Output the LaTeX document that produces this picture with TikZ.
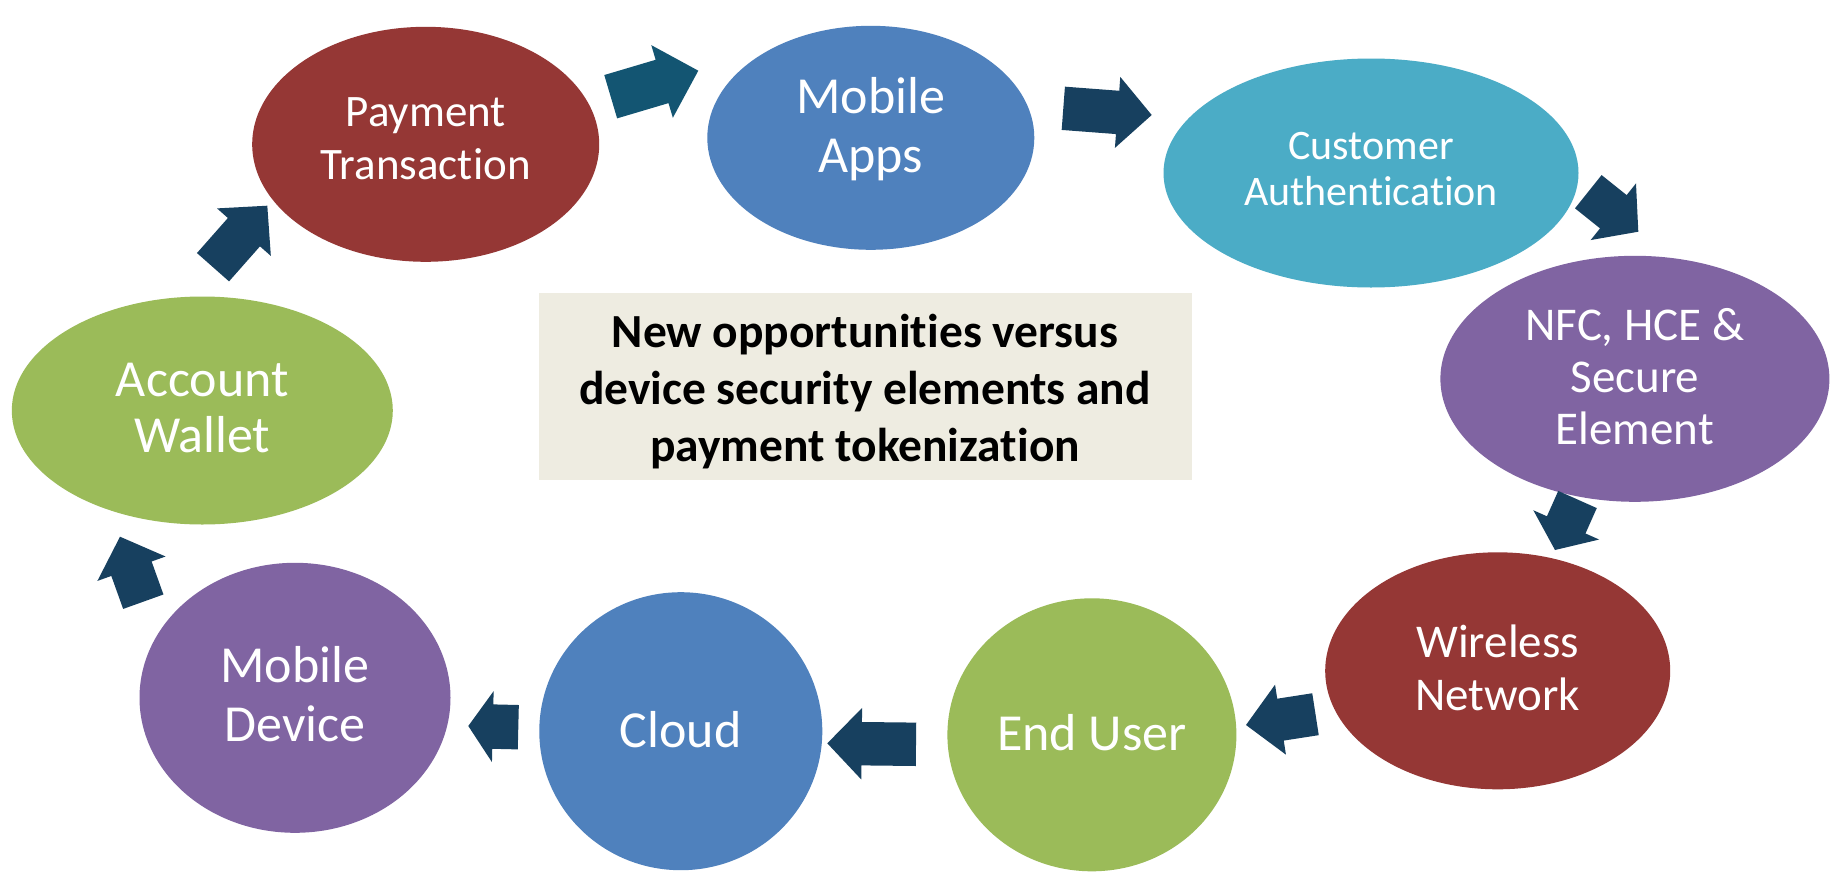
\documentclass[tikz,border=0pt]{standalone}
\usepackage{fontspec}
\setmainfont{Carlito}[Ligatures=NoCommon]
\usetikzlibrary{shapes.geometric,calc}
\definecolor{cred}{HTML}{953735}
\definecolor{cblue}{HTML}{4F81BD}
\definecolor{cteal}{HTML}{4BACC6}
\definecolor{cpurple}{HTML}{8064A2}
\definecolor{cgreen}{HTML}{9BBB59}
\definecolor{cbox}{HTML}{EEECE1}
\definecolor{carrow}{HTML}{17405F}
\definecolor{carrowa}{HTML}{135572}
\newcommand\fs[2]{\fontsize{#1}{#2}\selectfont}
% #1 tail, #2 tip, #3 shaft half width, #4 head half width, #5 head length, #6 colour
\newcommand\blockarrow[6]{%
  \coordinate (#1-hd) at ($(#2)!#5pt!(#1)$);
  \fill[#6] ($(#1)!#3pt!90:(#2)$) -- ($(#1-hd)!#3pt!-90:(#1)$) -- ($(#1-hd)!#4pt!-90:(#1)$)
    -- (#2) -- ($(#1-hd)!#4pt!90:(#1)$) -- ($(#1-hd)!#3pt!90:(#1)$) -- ($(#1)!#3pt!-90:(#2)$) -- cycle;
}
\tikzset{
  bubble/.style={ellipse, inner sep=0pt},
  label/.style={text=white, align=center, inner sep=0pt},
}
\begin{document}
\begin{tikzpicture}[x=1pt,y=-1pt]
\useasboundingbox (0,0) rectangle (1839,873);
\fill[white] (0,0) rectangle (1839,873);
% ellipses
\node[bubble, fill=cred, minimum width=347pt, minimum height=235pt] (pay) at (425.7,144.3) {};
\node[bubble, fill=cblue, minimum width=327pt, minimum height=224pt] (apps) at (870.8,137.8) {};
\node[bubble, fill=cteal, minimum width=415pt, minimum height=229pt] (auth) at (1371,173) {};
\node[bubble, fill=cpurple, minimum width=389pt, minimum height=246pt] (nfc) at (1634.9,378.8) {};
\node[bubble, fill=cred, minimum width=345pt, minimum height=237pt] (wire) at (1497.7,670.8) {};
\node[bubble, fill=cgreen, minimum width=289pt, minimum height=273pt] (user) at (1091.9,734.8) {};
\node[bubble, fill=cblue, minimum width=283pt, minimum height=278pt] (cloud) at (680.8,731.2) {};
\node[bubble, fill=cpurple, minimum width=311pt, minimum height=270pt] (dev) at (295,697.8) {};
\node[bubble, fill=cgreen, minimum width=381pt, minimum height=228pt] (wallet) at (202.3,410.5) {};
% labels
\node[label, font=\fs{45}{53}] (payl) at ($(pay)+(0,-6)$) {Payment\\Transaction};
\node[label, font=\fs{52}{59}] (appsl) at ($(apps)+(0,-9)$) {Mobile\\Apps};
\node[label, font=\fs{42}{46}] (authl) at ($(auth)+(0,-4)$) {Customer\\Authentication};
\node[label, font=\fs{47}{52}] (nfcl) at ($(nfc)+(0,-2)$) {NFC, HCE \&\\Secure\\Element};
\node[label, font=\fs{47}{53}] (wirel) at ($(wire)+(0,-3)$) {Wireless\\Network};
\node[label, font=\fs{52}{59}] (userl) at ($(user)+(0,-2)$) {End User};
\node[label, font=\fs{52}{59}] (cloudl) at ($(cloud)+(0,-2)$) {Cloud};
\node[label, font=\fs{52}{59}] (devl) at ($(dev)+(0,-4)$) {Mobile\\Device};
\node[label, font=\fs{52}{56}] (walletl) at ($(wallet)+(0,-2)$) {Account\\Wallet};
% centre box
\node[fill=cbox, minimum width=653pt, minimum height=187pt, inner sep=0pt] (box) at (865,386.5) {};
\node[align=center, inner sep=0pt, font=\bfseries\fs{47.5}{57}] (boxl) at ($(box)+(0,5)$) {New opportunities versus\\device security elements and\\payment tokenization};
% arrows
\coordinate (a1t) at (610.7,96.7);   \coordinate (a1p) at (698.3,70.7);
\coordinate (a2t) at (1063.3,108.3); \coordinate (a2p) at (1151.7,115);
\coordinate (a3t) at (1588.3,191.7); \coordinate (a3p) at (1638.3,231.7);
\coordinate (a4t) at (1577.5,499.5); \coordinate (a4p) at (1555,550);
\coordinate (a5t) at (1315.5,714.2); \coordinate (a5p) at (1246,725);
\coordinate (a6t) at (916,744.3);    \coordinate (a6p) at (827.3,743.3);
\coordinate (a7t) at (518.3,727.2);  \coordinate (a7p) at (468.3,726);
\coordinate (a8t) at (143.3,601.7);  \coordinate (a8p) at (120,536.7);
\coordinate (a9t) at (213,267.2);    \coordinate (a9p) at (267.3,205.7);
\blockarrow{a1t}{a1p}{22.6}{37.9}{37.8}{carrowa}
\blockarrow{a2t}{a2p}{21.7}{35.6}{34.2}{carrow}
\blockarrow{a3t}{a3p}{21.3}{36.3}{32}{carrow}
\blockarrow{a4t}{a4p}{21.1}{36}{27.5}{carrow}
\blockarrow{a5t}{a5p}{21.2}{35.4}{34.9}{carrow}
\blockarrow{a6t}{a6p}{21.7}{35.8}{34.4}{carrow}
\blockarrow{a7t}{a7p}{22.2}{35.5}{24.5}{carrow}
\blockarrow{a8t}{a8p}{21.4}{36.2}{34}{carrow}
\blockarrow{a9t}{a9p}{21.4}{35.9}{35.3}{carrow}
\end{tikzpicture}
\end{document}
